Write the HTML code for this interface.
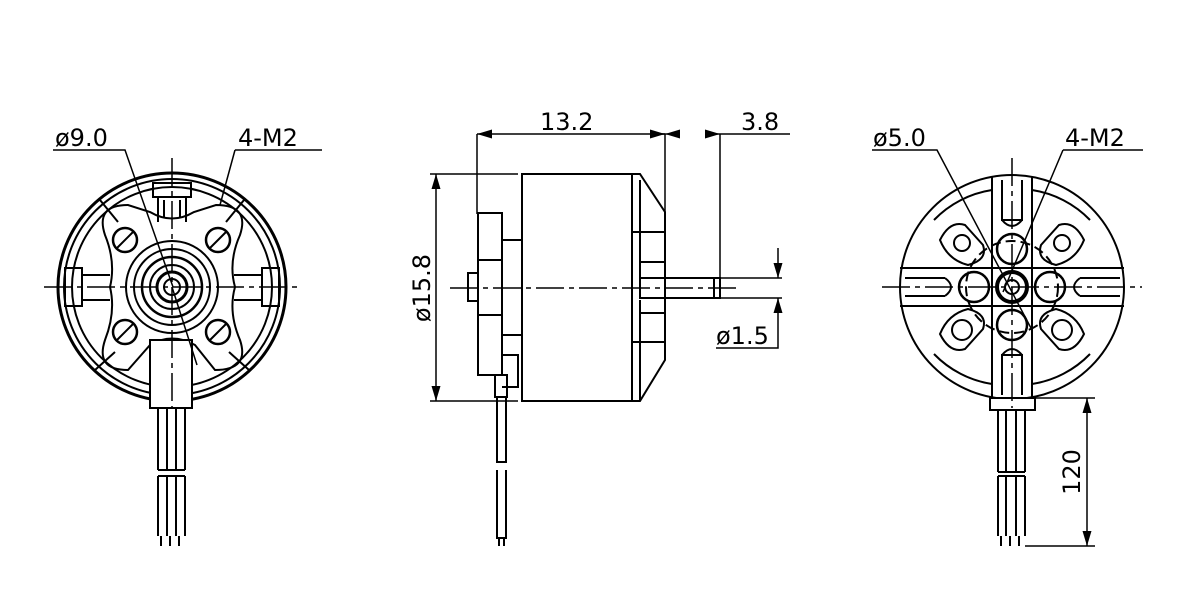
<!DOCTYPE html>
<html><head><meta charset="utf-8"><style>
html,body{margin:0;padding:0;background:#fff}
svg{display:block}
text{font-family:"DejaVu Sans","Liberation Sans",sans-serif;fill:#000}
</style></head><body>
<svg width="1200" height="604" viewBox="0 0 1200 604" xmlns="http://www.w3.org/2000/svg">
<defs>
<marker id="ar" viewBox="0 0 10 6" refX="10" refY="3" markerWidth="10" markerHeight="6" orient="auto-start-reverse"><path d="M0,0L10,3L0,6z" fill="#000"/></marker>
</defs>
<g fill="none" stroke="#000" stroke-width="2">
<!-- LEFT VIEW -->
<circle cx="172" cy="287" r="114" stroke-width="3"/>
<circle cx="172" cy="287" r="108"/>
<circle cx="172" cy="287" r="100"/>
<path d="M105,235 Q95,205 128,205 L150,212 Q172,225 194,212 L216,205 Q250,205 240,235 Q228,262 235,287 Q228,312 240,340 Q250,370 215,370 L195,345 Q172,332 150,345 L128,370 Q95,370 105,340 Q116,312 110,287 Q116,262 105,235z"/>
<circle cx="172" cy="287" r="46"/>
<circle cx="172" cy="287" r="38"/>
<circle cx="172" cy="287" r="30" stroke-width="2.5"/>
<circle cx="172" cy="287" r="22"/>
<circle cx="172" cy="287" r="15" stroke-width="3"/>
<circle cx="172" cy="287" r="8"/>
<circle cx="125" cy="240" r="12" stroke-width="2.5"/><circle cx="218" cy="240" r="12" stroke-width="2.5"/>
<circle cx="125" cy="332" r="12" stroke-width="2.5"/><circle cx="218" cy="332" r="12" stroke-width="2.5"/>
<path d="M117,248L133,232M210,248L226,232M117,340L133,324M210,340L226,324"/>
<rect x="65" y="268" width="17" height="38"/><rect x="262" y="268" width="17" height="38"/>
<rect x="153" y="183" width="38" height="14"/>
<path d="M158,197v25M186,197v25M164,200v18M180,200v18"/>
<path d="M82,275h28M82,300h28M234,275h28M234,300h28"/>
<path d="M100,200l18,22M244,200l-18,22M95,370l20-18M249,370l-20-18"/>
<rect x="150" y="340" width="42" height="68" fill="#fff"/>
<path d="M158,408v62M167,408v62M176,408v62M185,408v62M158,470h27"/>
<path d="M158,476v60M167,476v60M176,476v60M185,476v60M158,476h27"/>
<path d="M161,536v10M170,536v10M179,536v10"/>
<path d="M53,150h72l48,137M235,150h87M235,150l-15,55M172,287l25,78" stroke-width="1.5"/>
<path d="M172,158v250M44,287h258" stroke-width="1.5" stroke-dasharray="28,5,5,5"/>

<!-- MIDDLE VIEW -->
<rect x="522" y="174" width="110" height="227"/>
<path d="M632,174h8l25,38v148l-25,41h-8"/>
<path d="M640,180v52M640,342v59M632,232h33M632,342h33M640,232v45M640,300v42"/>
<path d="M640,262h25M640,313h25"/>
<path d="M478,213h24v162h-24z"/>
<path d="M502,240h20M502,335h20M478,260h24M478,315h24"/>
<path d="M502,355h16v32h-16M478,375h24"/>
<rect x="468" y="273" width="10" height="28"/>
<rect x="495" y="375" width="12" height="22"/>
<path d="M497,397v65h9v-65M497,470v68h9v-68M499,538v8M504,538v8"/>
<rect x="640" y="278" width="80" height="20"/>
<path d="M714,278v20"/>
<path d="M450,288h290" stroke-width="1.5" stroke-dasharray="28,5,5,5"/>
<!-- dims -->
<g stroke-width="1.5">
<path d="M477,134v80M665,134v78M720,134v144"/>
<path d="M477,134h188" marker-start="url(#ar)" marker-end="url(#ar)"/>
<path d="M650,134h15M720,134h70"/>
<path d="M665,134h14" marker-start="url(#ar)"/><path d="M705,134h15" marker-end="url(#ar)"/>
<path d="M430,174h88M430,401h88"/>
<path d="M436,174v227" marker-start="url(#ar)" marker-end="url(#ar)"/>
<path d="M720,278h62M720,298h62"/>
<path d="M778,248v30" marker-end="url(#ar)"/><path d="M778,318v-20" marker-end="url(#ar)"/>
<path d="M778,318v30h-62"/>
</g>

<!-- RIGHT VIEW -->
<circle cx="1012" cy="287" r="112"/>
<path d="M934,220A102,102 0 0 1 992,190M1032,190A102,102 0 0 1 1090,220M1090,354A102,102 0 0 1 1032,384M992,384A102,102 0 0 1 934,354"/>
<path d="M992,176v222M1032,176v222M900,268h224M900,306h224"/>
<path d="M1002,180v40h20v-40M1002,395v-40h20v40M905,278h40M905,296h40M1080,278h40M1080,296h40"/>
<path d="M1002,220q10,12 20,0M1002,355q10-12 20,0M945,278q12,9 0,18M1080,278q-12,9 0,18"/>
<circle cx="1012" cy="287" r="46" stroke-dasharray="10,5"/>
<circle cx="1012" cy="249" r="15" stroke-width="2.5"/><circle cx="1012" cy="325" r="15" stroke-width="2.5"/>
<circle cx="974" cy="287" r="15" stroke-width="2.5"/><circle cx="1050" cy="287" r="15" stroke-width="2.5"/>
<circle cx="1012" cy="287" r="15" stroke-width="4"/><circle cx="1012" cy="287" r="7"/>
<path d="M940,240q10-20 25-15l18,20q5,15-15,20q-20,-5-28-25z"/>
<path d="M1084,240q-10-20-25-15l-18,20q-5,15 15,20q20,-5 28-25z"/>
<path d="M940,334q10,20 25,15l18-20q5-15-15-20q-20,5-28,25z"/>
<path d="M1084,334q-10,20-25,15l-18-20q-5-15 15-20q20,5 28,25z"/>
<circle cx="962" cy="330" r="10"/><circle cx="1062" cy="330" r="10"/>
<circle cx="962" cy="243" r="8"/><circle cx="1062" cy="243" r="8"/>
<rect x="990" y="398" width="45" height="12" fill="#fff"/>
<path d="M998,410v62M1006,410v62M1016,410v62M1025,410v62M998,472h27"/>
<path d="M998,476v60M1006,476v60M1016,476v60M1025,476v60M998,476h27"/>
<path d="M1001,536v10M1010,536v10M1019,536v10"/>
<path d="M872,150h65l95,180M1063,150h80M1063,150l-60,142" stroke-width="1.5"/>
<path d="M1012,158v250M882,287h260" stroke-width="1.5" stroke-dasharray="28,5,5,5"/>
<g stroke-width="1.5">
<path d="M1035,398h60M1025,546h70"/>
<path d="M1087,398v148" marker-start="url(#ar)" marker-end="url(#ar)"/>
</g>
</g>
<!-- labels -->
<g font-size="24">
<text x="55" y="146">ø9.0</text>
<text x="238" y="146">4-M2</text>
<text x="540" y="130">13.2</text>
<text x="741" y="130">3.8</text>
<text x="716" y="344">ø1.5</text>
<text x="873" y="146">ø5.0</text>
<text x="1065" y="146">4-M2</text>
<text transform="translate(430,288) rotate(-90)" text-anchor="middle">ø15.8</text>
<text transform="translate(1080,472) rotate(-90)" text-anchor="middle">120</text>
</g>
</svg>
</body></html>
